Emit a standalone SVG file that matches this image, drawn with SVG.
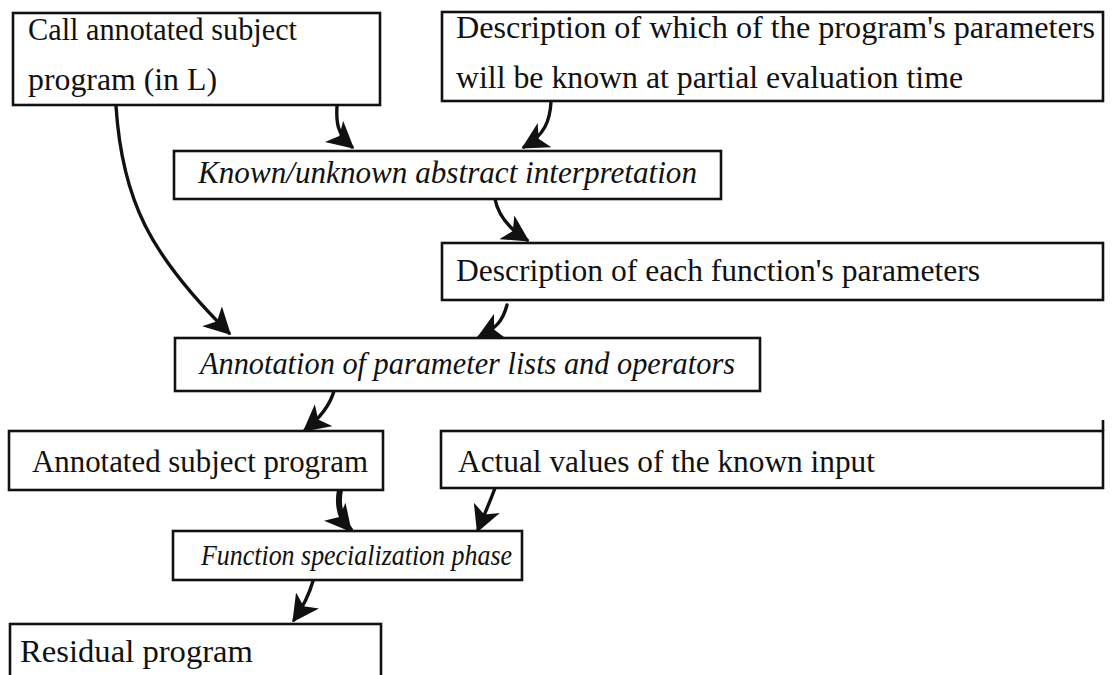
<svg xmlns="http://www.w3.org/2000/svg" width="1112" height="675" viewBox="0 0 1112 675">
<style>
.box{fill:#fff;stroke:#111;stroke-width:2.6}
.t{font-family:"Liberation Serif","Times New Roman",serif;font-size:31px;fill:#111}
.i{font-style:italic}
.s{font-size:28.5px}
.c{fill:none;stroke:#111;stroke-width:3.4;stroke-linecap:round}
.k{stroke-width:6}
</style>
<defs>
<marker id="ah" markerUnits="userSpaceOnUse" markerWidth="28" markerHeight="28" viewBox="0 0 20 20" refX="17" refY="10" orient="auto">
<path d="M0,0 L19,10 L0,20 L5,10 Z" fill="#111"/>
</marker>
</defs>
<rect width="1112" height="675" fill="#fff"/>
<g id="connectors">
<path class="c" d="M337,105 C336,122 337,134 352,147" marker-end="url(#ah)"/>
<path class="c" d="M551,102 C550,120 545,135 524,147" marker-end="url(#ah)"/>
<path class="c" d="M495,199 C498,215 508,228 527,240" marker-end="url(#ah)"/>
<path class="c" d="M507,305 C503,320 497,328 479,337" marker-end="url(#ah)"/>
<path class="c" d="M116,106 C122,200 150,255 229,333" marker-end="url(#ah)"/>
<path class="c" d="M334,391 C330,405 320,418 305,430" marker-end="url(#ah)"/>
<path class="c k" d="M340,490 C337,505 340,518 350,530" marker-end="url(#ah)"/>
<path class="c" d="M495,488 C490,502 484,515 478,530" marker-end="url(#ah)"/>
<path class="c" d="M313,581 C309,595 303,607 294,620" marker-end="url(#ah)"/>
</g>
<g id="n1"><rect class="box" x="13" y="13" width="367" height="92"/>
<text class="t" x="28" y="40" textLength="269" lengthAdjust="spacingAndGlyphs">Call annotated subject</text>
<text class="t" x="28" y="90" textLength="189" lengthAdjust="spacingAndGlyphs">program (in L)</text></g>
<g id="n2"><rect class="box" x="442" y="12" width="661" height="89"/>
<text class="t" x="456" y="38" textLength="639" lengthAdjust="spacingAndGlyphs">Description of which of the program's parameters</text>
<text class="t" x="456" y="88" textLength="507" lengthAdjust="spacingAndGlyphs">will be known at partial evaluation time</text></g>
<g id="n3"><rect class="box" x="174" y="151" width="547" height="48"/>
<text class="t i" x="198" y="183" textLength="499" lengthAdjust="spacingAndGlyphs">Known/unknown abstract interpretation</text></g>
<g id="n4"><rect class="box" x="442" y="243" width="661" height="57"/>
<text class="t" x="456" y="281" textLength="524" lengthAdjust="spacingAndGlyphs">Description of each function's parameters</text></g>
<g id="n5"><rect class="box" x="175" y="338" width="585" height="53"/>
<text class="t i" x="200" y="374" textLength="535" lengthAdjust="spacingAndGlyphs">Annotation of parameter lists and operators</text></g>
<g id="n6"><rect class="box" x="9" y="431" width="374" height="59"/>
<text class="t" x="32" y="472" textLength="336" lengthAdjust="spacingAndGlyphs">Annotated subject program</text></g>
<g id="n7"><rect class="box" x="441" y="431" width="662" height="57"/>
<line x1="1103" y1="420" x2="1103" y2="431" stroke="#111" stroke-width="2.6"/>
<text class="t" x="458" y="472" textLength="417" lengthAdjust="spacingAndGlyphs">Actual values of the known input</text></g>
<g id="n8"><rect class="box" x="173" y="531" width="349" height="49"/>
<text class="t i s" x="201" y="565" textLength="311" lengthAdjust="spacingAndGlyphs">Function specialization phase</text></g>
<g id="n9"><rect class="box" x="10" y="624" width="371" height="60"/>
<text class="t" x="20" y="662" textLength="233" lengthAdjust="spacingAndGlyphs">Residual program</text></g>
</svg>
